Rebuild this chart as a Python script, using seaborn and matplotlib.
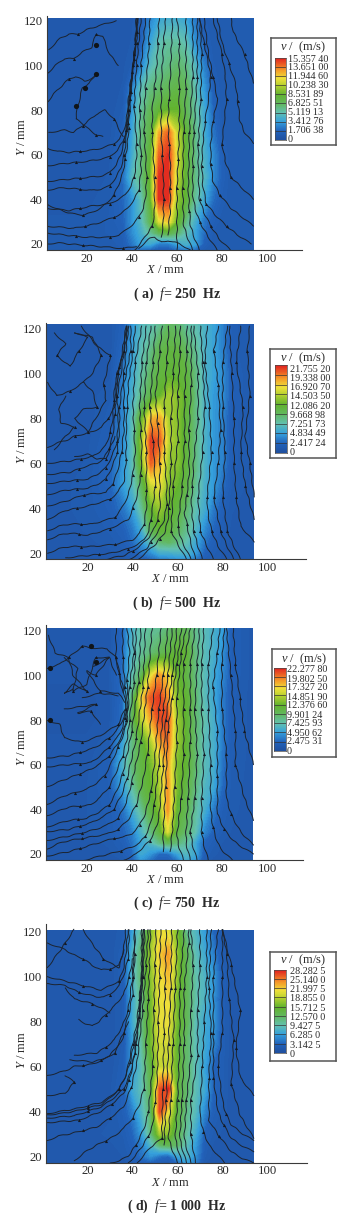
import numpy as np
import pandas as pd
import matplotlib
matplotlib.use('Agg')
import matplotlib.pyplot as plt
from matplotlib.colors import LinearSegmentedColormap
from matplotlib.patches import Rectangle
from matplotlib.ticker import MultipleLocator
import seaborn as sns

W, H = 353, 1227

# grid of the velocity field
grid_x = [2, 20, 30, 36, 40, 44, 48, 52, 56, 60, 64, 68, 72, 76, 80, 84, 94.5]
grid_y = [122, 110, 100, 90, 80, 70, 60, 50, 40, 30, 25, 20, 17]

# velocity, m/s, rows follow grid_y
field_a = [
    [.8, .8, .8, .8, .9, 1.3, 2.5, 3.5, 3.8, 3.8, 3.5, 2.2, 1.2, 1, 1, 1, 1],
    [.8, .8, .8, .8, 1, 1.5, 3.5, 5, 5.5, 5.5, 5, 3, 1.6, 1, 1, 1, 1],
    [.8, .8, .8, .9, 1.2, 2.5, 4.5, 5.5, 6, 6.5, 6, 4.5, 2.5, 1.2, 1, 1, 1],
    [.8, .8, .8, 1, 2.5, 4.8, 6, 6.5, 7, 7.5, 7, 5, 3.2, 1.5, 1, 1, 1],
    [.8, .8, .8, 1.2, 3.2, 5.5, 7, 8, 8.5, 8.5, 7, 5.5, 3.8, 1.8, 1, 1, 1],
    [.8, .8, .9, 1.5, 3.5, 6, 7.5, 12.5, 14, 10.5, 8, 6, 4, 2.2, 1.2, 1, 1],
    [.8, .8, .9, 1.8, 3.8, 6, 8, 14, 15, 11, 8, 6, 4.2, 2.8, 1.4, 1, 1],
    [.8, .8, 1, 2, 4.5, 6, 8.5, 15, 15, 10.5, 8, 6, 4.5, 2.8, 1.5, 1, 1],
    [.9, .9, 1.1, 1.8, 3, 4.8, 8, 15, 15, 9.5, 8, 5.5, 3.8, 2, 1.3, 1, 1],
    [1, 1, 1.2, 1.6, 3, 4.5, 7, 11, 12, 8.5, 6, 4, 2.2, 1.4, 1, 1, 1],
    [1, 1, 1.2, 1.4, 2.8, 4, 5.5, 7, 7.5, 6.5, 5, 3.5, 2, 1.1, 1, 1, 1],
    [1, 1, 1, 1.3, 2.2, 3.5, 3.8, 2.4, 2.4, 3.5, 4.2, 3.5, 1.5, 1, 1, 1, 1],
    [1, 1, 1, 1.1, 1.6, 1.8, 1.4, 1.2, 1.2, 1.7, 2.2, 1.8, 1.1, 1, 1, 1, 1],
]
field_b = [
    [1.2, 1.2, 1.2, 2.2, 4.5, 6.5, 7, 8, 9.5, 9, 7.5, 7, 6, 5, 3.5, 1.8, 1.2],
    [1.2, 1.2, 1.2, 2.8, 5, 7, 8.5, 10.5, 11, 11, 9.5, 8, 6, 5, 3.5, 1.8, 1.2],
    [1.2, 1.2, 1.3, 3.5, 5.5, 7.5, 9.5, 11, 11.5, 11.5, 11, 8.5, 6, 5, 4, 2, 1.2],
    [1.2, 1.2, 1.6, 4, 6, 8.5, 10.5, 12, 14, 13, 11.5, 8.5, 6, 4.5, 4, 2, 1.2],
    [1.2, 1.2, 1.8, 4, 7, 12, 17.5, 18, 14, 13, 11, 8.5, 6, 4.5, 3.5, 1.8, 1.2],
    [1.2, 1.3, 2, 4.2, 7, 14, 21, 20, 14.5, 13, 11, 8.5, 6, 4.5, 3.5, 1.8, 1.2],
    [1.2, 1.4, 2.4, 4.5, 7, 13, 20, 17.5, 13.5, 13, 11, 8.5, 6, 4.5, 3.5, 1.8, 1.2],
    [1.2, 1.5, 2.4, 4.8, 6.5, 10, 15, 16, 13, 12, 10.5, 8, 5.8, 4.5, 2.8, 1.6, 1.2],
    [1.2, 1.5, 2, 3.2, 5, 8, 12, 13.5, 12, 11, 9, 7, 5.5, 3.2, 2, 1.4, 1.2],
    [1.2, 1.4, 1.7, 2.2, 3.2, 5.5, 10, 11.5, 11, 9.5, 8, 6, 3.8, 2.4, 1.6, 1.3, 1.2],
    [1.2, 1.3, 1.5, 1.9, 2.8, 4.5, 7, 9, 9.5, 8.5, 7, 5.2, 3, 2, 1.5, 1.3, 1.2],
    [1.2, 1.2, 1.3, 1.5, 2, 3, 4, 5.5, 5.5, 6, 6, 4.5, 2.2, 1.7, 1.3, 1.2, 1.2],
    [1.2, 1.2, 1.2, 1.3, 1.5, 2, 2.4, 3.2, 3.5, 3.8, 4, 3.2, 1.8, 1.5, 1.3, 1.2, 1.2],
]
field_c = [
    [1.2, 1.2, 1.2, 2.5, 6, 7.5, 8, 8, 9, 10, 10, 8.5, 7, 6, 5, 2, 1.2],
    [1.2, 1.2, 1.2, 2.8, 6.5, 8, 9, 10, 11, 12, 12, 9, 7, 6, 4.5, 2, 1.2],
    [1.2, 1.2, 1.4, 3, 7, 10, 16, 19, 17, 12.5, 11, 9, 7, 5.5, 4, 2, 1.2],
    [1, 1, 1.3, 2.8, 9, 16.5, 20.5, 21.5, 19, 13, 12, 9.5, 7, 5.5, 3.5, 1.8, 1.2],
    [1, 1, 1.3, 3, 10, 14.5, 18, 21, 21, 14, 12, 9.5, 7.5, 6, 3.5, 1.8, 1.2],
    [1.2, 1.2, 1.6, 5, 8.5, 11, 14, 18, 20, 14, 12, 9.5, 7, 6, 3.5, 1.8, 1.2],
    [1.2, 1.3, 2, 6, 9, 11, 12.5, 15, 18.5, 13, 12, 9.5, 7, 6, 3.2, 1.7, 1.2],
    [1.2, 1.4, 2, 5, 7.5, 10.5, 12, 14, 19, 13, 11, 9, 6.5, 5.5, 2.8, 1.6, 1.2],
    [1.2, 1.4, 1.8, 3, 5.5, 8, 11, 13, 19, 12, 10.5, 8, 6, 3.5, 2, 1.5, 1.2],
    [1.2, 1.4, 1.7, 2.4, 3.5, 6, 8.5, 11, 16, 11, 9.5, 7.5, 4, 2.4, 1.7, 1.4, 1.2],
    [1.2, 1.2, 1.5, 2, 3, 5, 6.5, 8.5, 10, 9, 8, 5.5, 2.5, 1.8, 1.4, 1.2, 1.2],
    [1.2, 1.2, 1.3, 1.7, 2.5, 5.5, 4.5, 2.8, 2.8, 5, 6.5, 5.5, 2, 1.5, 1.3, 1.2, 1.2],
    [1.2, 1.2, 1.2, 1.4, 2, 4.5, 3, 2, 2, 3, 5.5, 4.5, 1.7, 1.3, 1.2, 1.2, 1.2],
]
field_d = [
    [1.5, 1.5, 1.5, 2, 6, 10, 16, 21, 20, 16, 10, 8, 6, 3, 1.5, 1.5, 1.5],
    [1.5, 1.5, 1.5, 2.5, 8, 12, 18, 22, 24, 17, 13, 9, 7, 4.5, 2, 1.5, 1.5],
    [1.5, 1.5, 1.5, 2.5, 8, 12, 17, 21, 22.5, 17, 13, 9.5, 8, 6, 2.5, 1.5, 1.5],
    [1.5, 1.5, 1.5, 2.2, 7, 11, 16, 21, 21.5, 16, 13, 9.5, 8, 5.5, 2.4, 1.5, 1.5],
    [1.5, 1.5, 1.5, 2.2, 7, 11, 16, 21, 21, 16, 13, 9, 7, 6, 2.4, 1.5, 1.5],
    [1.5, 1.5, 1.5, 2.2, 6, 10, 16, 20, 20, 15, 12, 9, 7, 5, 2.4, 1.5, 1.5],
    [1.5, 1.5, 1.5, 2.5, 6, 9, 14, 19.5, 19.5, 15, 12, 9, 6.5, 3.2, 2.2, 1.5, 1.5],
    [1.5, 1.5, 1.7, 2.8, 7, 9, 13, 26.5, 28, 14, 12, 9, 7, 3.2, 2.2, 1.5, 1.5],
    [1.5, 1.5, 1.7, 2.6, 4.5, 8, 12, 27, 21, 14, 11, 8.5, 5, 2.6, 2, 1.5, 1.5],
    [1.5, 1.6, 1.9, 2.2, 3.2, 6, 11, 18, 17, 13, 10, 7, 3, 2, 1.7, 1.5, 1.5],
    [1.5, 1.5, 1.7, 2, 2.8, 4.5, 8, 12, 13, 12, 9, 6, 2.5, 1.7, 1.5, 1.5, 1.5],
    [1.5, 1.5, 1.6, 1.8, 2.4, 3.8, 5.5, 3.8, 3.2, 6.5, 8, 5.5, 2.2, 1.6, 1.5, 1.5, 1.5],
    [1.5, 1.5, 1.5, 1.6, 2, 2.6, 2.8, 2, 1.8, 3.2, 6, 4.5, 1.8, 1.5, 1.5, 1.5, 1.5],
]

# streamlines, (X, Y) in mm
lines_a = [
    [(2, 38), (6, 36), (10, 34.5), (14, 33.5), (18, 33), (22, 34), (26, 36), (29, 38.5), (32, 42), (34, 46.5), (36, 52), (37, 58), (38, 65), (38.5, 72), (39, 80), (39.5, 88), (40, 95), (41, 103), (41.5, 110), (42, 121)],
    [(2, 44), (7, 45), (12, 45), (17, 44.5), (22, 44), (26, 44.5), (30, 46), (33, 50), (35, 54), (36.5, 60), (37.5, 68), (38, 74), (38.5, 80), (39, 88), (40, 95), (41.5, 110), (42, 121)],
    [(2, 48), (7, 48.5), (12, 49), (17, 49.5), (22, 50), (27, 50.5), (30, 52), (33, 55.5), (35, 60), (36.5, 66), (37.5, 72), (38.5, 80), (39, 85), (40.5, 100), (42, 115), (42.5, 121)],
    [(2, 55), (6, 55.5), (10, 56), (15, 56.5), (20, 57), (26, 58), (30, 59), (33.5, 62), (36, 66), (37.5, 71), (38, 76), (39, 85), (39.5, 90), (41, 105), (42.5, 121)],
    [(2, 63), (7, 61.5), (12, 61), (17, 61.5), (22, 62), (27, 63), (32, 65), (34.5, 67), (36, 70), (37.5, 75), (38, 80), (39, 90), (40, 97), (42, 110), (42.5, 121)],
    [(2, 25), (6, 24.5), (10, 24), (15, 23.5), (20, 23), (25, 23), (30, 23), (34, 24), (37, 26), (40, 28.5), (43, 32), (45, 36), (46, 40), (46.5, 50), (46, 60), (45.5, 70), (45.5, 80), (46, 90), (47, 100), (47.5, 110), (48, 121)],
    [(2, 28), (8, 27.5), (14, 27), (19, 28), (24, 29), (28, 30.5), (32, 32), (35, 33.5), (38, 36), (41, 40), (43, 44), (44, 52), (44, 60), (43.5, 70), (43.5, 80), (44, 100), (45, 110), (46, 121)],
    [(2, 36), (7, 35.5), (12, 35), (17, 36), (22, 37), (26, 37.5), (30, 38), (34, 40), (37, 42), (39.5, 46), (41, 50), (42, 58), (42, 65), (41.5, 74), (41, 82), (41.5, 92), (42, 100), (44, 121)],
    [(2, 20), (7, 20.5), (12, 20), (18, 19.5), (24, 19), (30, 18.5), (36, 18), (42, 19)],
    [(41, 17), (43, 19.5), (45, 22), (47, 25), (49, 28), (50, 34), (50, 40), (50, 50), (49.5, 60), (49, 70), (49, 80), (50, 90), (51, 100), (51.5, 110), (52, 121)],
    [(43, 18), (46, 21), (48, 22.5), (50, 23), (53, 21)],
    [(53, 21), (56, 21.5), (58, 21), (60, 20.5), (63, 19), (66, 17)],
    [(53, 23), (54, 30), (54, 40), (54, 50), (53.5, 60), (53, 70), (53, 90), (54, 110), (55, 121)],
    [(56, 24), (57, 35), (57, 45), (57, 55), (56.5, 65), (56, 75), (56.5, 85), (57, 95), (58, 121)],
    [(60, 17), (60, 28), (60, 45), (60.5, 58), (61, 70), (61, 90), (61, 110), (60, 121)],
    [(67, 17), (65, 22), (63, 28), (62.5, 45), (63, 70), (64, 90), (64, 121)],
    [(70, 17), (68, 22), (66, 28), (65.5, 35), (65, 45), (65.5, 70), (67, 95), (67, 121)],
    [(78, 17), (74, 23), (70, 30), (68, 36), (67, 42), (67, 55), (67.5, 70), (69, 95), (69, 121)],
    [(84, 17), (79, 22), (75, 28), (72, 34), (70, 40), (69.5, 52), (69.5, 65), (70.5, 85), (71, 105), (70, 121)],
    [(93, 20), (87, 24), (82, 28), (77, 33), (73, 38), (71.5, 46), (71, 55), (71.5, 65), (72.5, 75), (74, 85), (75, 95), (73.5, 103), (72, 110), (70, 121)],
    [(94, 28), (89, 32), (84, 36), (79, 42), (76, 48), (75, 56), (75, 65), (76, 75), (78, 85), (76, 95), (74, 105), (72, 121)],
    [(94, 40), (89, 45), (84, 50), (81.5, 57), (80, 65), (81, 75), (82, 85), (81.5, 95), (80, 105), (76, 121)],
    [(94, 65), (90, 70), (88, 75), (87, 84), (86, 92), (83, 101), (80, 110), (78, 121)],
    [(94, 92), (90, 105), (85, 115), (84, 121)],
    [(2, 96), (6, 100), (10, 103), (14, 103), (18, 106), (22, 108), (24, 114), (27, 113), (30, 105), (34, 100)],
    [(3, 107), (8, 112), (12, 114), (16, 114), (20, 116), (26, 118), (33, 120)],
    [(2, 83), (5, 87), (8, 90), (12, 94), (15, 95), (19, 93), (22, 94), (25, 96)],
    [(16, 82), (18, 90), (21, 92), (24, 96)],
    [(16, 82), (15, 76), (18, 74), (20, 72), (24, 69), (27, 68)],
    [(3, 70), (7, 70.5), (10, 71), (14, 70), (18, 73), (24, 78), (28, 80), (32, 76), (36, 68)],
]
lines_b = [
    [(2, 67), (6, 69), (10, 70), (14, 72), (18, 73), (22, 74), (26, 76), (29, 80), (32, 85), (33, 92), (33, 100), (35, 106), (36, 110), (37, 121)],
    [(2, 60), (7, 60.5), (12, 61), (17, 62), (22, 63), (25, 65), (28, 68), (30, 74), (31, 80), (31.5, 88), (32, 95), (34, 103), (36, 110), (37, 121)],
    [(2, 55), (7, 55.5), (12, 56), (16, 57.5), (20, 59), (24, 60), (27, 62), (29.5, 67), (31, 72), (32, 82), (32, 90), (33.5, 100), (35, 108), (37, 121)],
    [(2, 51), (6, 51.5), (10, 52), (15, 52.5), (20, 53), (24, 55), (28, 58), (31, 64), (33, 70), (33.5, 80), (33, 90), (35, 102), (36, 110), (38, 121)],
    [(2, 46), (6, 47), (10, 48), (15, 48.5), (20, 49), (24, 50.5), (28, 53), (31, 59), (33, 65), (34, 75), (34, 85), (36, 100), (38, 121)],
    [(2, 41), (6, 42), (10, 43), (14, 44.5), (18, 46), (23, 46.5), (28, 47), (31, 51), (33, 56), (35, 65), (36, 75), (36, 85), (36, 95), (39, 110), (39, 121)],
    [(2, 35), (6, 37), (10, 39), (15, 40), (20, 41), (25, 42.5), (30, 44), (33.5, 47.5), (36, 52), (37, 62), (37, 75), (37.5, 85), (38, 95), (40, 110), (41, 121)],
    [(2, 30), (7, 32), (12, 33), (17, 33), (22, 33), (27, 34.5), (32, 36), (35, 40), (38, 46), (40, 55), (41, 65), (40.5, 75), (40, 85), (41, 105), (44, 121)],
    [(2, 26), (7, 28), (12, 29), (16, 28.5), (20, 28), (25, 29.5), (30, 31), (34, 33), (38, 35), (40, 40), (42, 46), (43.5, 55), (44, 65), (43.5, 75), (43, 85), (44, 105), (46, 121)],
    [(2, 20), (7, 22), (12, 23), (17, 23), (22, 23), (27, 23.5), (32, 24), (36, 25), (40, 26), (43, 29), (45, 33), (46, 40), (46, 48), (46, 65), (45, 85), (46, 105), (48, 121)],
    [(10, 18), (15, 18.5), (20, 19), (25, 19.5), (30, 20), (34, 21), (38, 22), (42, 24), (45, 26), (47, 30), (48, 35), (49, 42), (50, 50), (49.5, 60), (49, 70), (47.5, 85), (49, 105), (50, 121)],
    [(26, 17), (31, 18), (36, 19), (40, 21), (44, 24), (47, 27), (49, 30), (51, 35), (52, 40), (52, 60), (51, 78), (50, 90), (52, 110), (53, 121)],
    [(38, 17), (42, 19.5), (46, 22), (48, 25), (50, 28), (52, 31), (54, 35), (55, 42), (55, 50), (54, 65), (54, 85), (55, 105), (56, 121)],
    [(42, 17), (46, 20.5), (50, 24), (52, 26.5), (54, 29), (55.5, 34), (56, 40), (57, 60), (57, 80), (58, 100), (59, 121)],
    [(64, 17), (62, 20.5), (60, 24), (58.5, 27), (57, 30), (57.5, 40), (58, 50), (60, 70), (60, 90), (61, 110), (61, 121)],
    [(66, 17), (64, 21), (62, 25), (61, 28), (60, 32), (61, 41), (62, 50), (63, 70), (63, 90), (64, 110), (64, 121)],
    [(68, 17), (66.5, 22), (65, 28), (64, 33), (63, 38), (64, 46), (65, 55), (65, 75), (66, 95), (66, 121)],
    [(71, 17), (69, 23), (67, 30), (66, 42), (66.5, 50), (67, 60), (69, 80), (69, 100), (67, 121)],
    [(76, 17), (73, 23), (70, 30), (69, 45), (70, 55), (71, 65), (72, 85), (71, 105), (70, 121)],
    [(82, 17), (78, 23), (75, 30), (73.5, 37), (73, 45), (74, 55), (75, 65), (74, 85), (72, 105), (73, 121)],
    [(85, 17), (82, 23), (79, 30), (76, 45), (78, 60), (79, 75), (78, 95), (76, 110), (78, 121)],
    [(88, 17), (85, 23), (82, 30), (80, 45), (81, 65), (80, 85), (80, 105), (82, 121)],
    [(94, 25), (88, 32), (86, 45), (85, 60), (85, 80), (84, 100), (83, 121)],
    [(94, 35), (90, 50), (88, 65), (89, 85), (86, 105), (88, 121)],
    [(94, 45), (92, 60), (90, 72), (92, 90), (91, 110), (92, 121)],
    [(5, 118), (10, 113), (6, 108), (12, 103), (16, 110), (20, 116), (14, 118)],
    [(2, 96), (6, 90), (12, 92), (18, 96), (22, 92), (24, 85), (18, 84), (14, 80), (20, 74), (28, 88)],
    [(14, 118), (22, 116), (26, 108), (22, 100), (18, 96)],
    [(5, 66), (10, 72), (14, 76), (8, 78), (7, 84), (10, 90)],
    [(14, 63), (20, 64), (24, 62), (28, 62), (32, 72)],
    [(17, 121), (24, 112), (30, 108), (27, 95), (28, 88)],
]
lines_c = [
    [(2, 63), (7, 63.5), (12, 64), (17, 65.5), (22, 67), (26, 69), (30, 72), (33, 75), (35, 78), (36.5, 81.5), (37.5, 85), (37, 90), (36, 95), (34.5, 101), (33, 108), (33, 121)],
    [(2, 59), (7, 59.5), (12, 60), (17, 60.5), (22, 61), (26, 64), (30, 68), (33.5, 72), (36, 77), (37, 81), (37.5, 86), (37, 95), (36, 108), (36, 121)],
    [(2, 50), (7, 52), (12, 54), (17, 56), (22, 58), (26, 60.5), (30, 64), (33.5, 69), (36, 74), (37.5, 80), (38, 85), (38, 98), (39, 110), (38, 121)],
    [(2, 42), (6, 44), (10, 46), (15, 47.5), (20, 49), (24, 51.5), (28, 55), (31, 61), (34, 68), (36.5, 74), (38, 80), (39, 95), (41, 110), (40, 121)],
    [(2, 37), (7, 39), (12, 41), (17, 41.5), (22, 42), (26, 45.5), (30, 50), (33, 56.5), (36, 64), (38, 72), (39, 80), (41, 97), (42, 121)],
    [(2, 32), (7, 33.5), (12, 35), (16, 35.5), (20, 36), (25, 38.5), (30, 42), (33.5, 48.5), (36, 56), (38, 65), (40, 75), (43, 97), (44, 121)],
    [(2, 30), (7, 30.5), (12, 31), (17, 32.5), (22, 34), (27, 36.5), (32, 40), (35.5, 46.5), (38, 54), (40, 63), (42, 72), (45, 95), (46, 121)],
    [(2, 26), (7, 27), (12, 28), (18, 29.5), (24, 31), (29, 33), (34, 36), (37.5, 43), (40, 52), (42, 61), (44, 70), (47, 95), (49, 121)],
    [(2, 22), (7, 24.5), (12, 26), (18, 27), (24, 28), (29, 29), (34, 31), (38.5, 35.5), (42, 42), (45, 53), (47, 65), (49, 85), (51, 100), (53, 121)],
    [(2, 19), (7, 20), (12, 21), (17, 22.5), (22, 24), (27, 25.5), (32, 27), (36, 27.5), (40, 29), (43.5, 33), (46, 38), (48.5, 48), (50, 60), (52, 85), (54, 100), (56, 121)],
    [(18, 17), (24, 18.5), (30, 20), (35, 21.5), (40, 23), (43.5, 25), (46, 28), (48.5, 34), (50, 42), (52, 60), (54, 85), (56, 100), (58, 121)],
    [(36, 17), (42, 20), (45, 23), (48, 26), (50.5, 31), (52, 36), (54, 60), (55, 80), (58, 100), (60, 121)],
    [(54, 21), (54, 30), (55, 50), (56, 75), (58, 90), (60, 105), (62, 121)],
    [(57, 21), (58, 30), (59, 50), (60, 70), (60, 90), (62, 110), (64, 121)],
    [(63, 17), (61, 23), (60, 28), (62, 45), (63, 65), (63, 85), (63, 105), (66, 121)],
    [(66, 17), (64.5, 23), (64, 28), (65, 45), (66, 70), (66, 85), (66, 105), (68, 121)],
    [(69, 17), (67, 24), (66, 30), (68, 45), (69, 65), (68, 85), (69, 105), (70, 121)],
    [(74, 17), (72, 24), (71, 30), (71, 45), (72, 65), (71, 85), (71, 105), (72, 121)],
    [(85, 17), (81, 20.5), (78, 25), (76, 32), (75, 40), (75, 60), (74, 85), (74, 105), (76, 121)],
    [(94, 20), (89, 23), (85, 26), (81, 31), (78, 38), (78, 55), (78, 75), (76, 95), (78, 110), (79, 121)],
    [(94, 24), (90, 28), (87, 32), (84, 38), (82, 45), (82, 65), (80, 85), (80, 105), (81, 121)],
    [(94, 35), (90, 45), (86, 60), (86, 75), (84, 100), (82, 121)],
    [(94, 60), (90, 75), (88, 90), (86, 105), (85, 121)],
    [(2, 103), (8, 105), (12, 108), (18, 113), (24, 112), (29, 112), (33, 108), (36, 92)],
    [(3, 118), (6, 110), (12, 108), (14, 100), (20, 93), (14, 96), (10, 92), (14, 94)],
    [(10, 108), (16, 103), (14, 93), (20, 96), (24, 108), (30, 108), (33, 100)],
    [(23, 104), (30, 108), (24, 100), (20, 102), (26, 93), (34, 92), (37, 88)],
    [(2, 80), (8, 78), (10, 72), (18, 70), (26, 73), (34, 78), (37, 85)],
    [(10, 85), (18, 86), (24, 87), (16, 83), (22, 84), (26, 78)],
    [(18, 90), (26, 92), (34, 91)],
]
lines_d = [
    [(2, 39), (8, 40), (14, 41), (20, 42.5), (26, 44), (30, 46.5), (34, 50), (36.5, 55), (38, 60), (40, 70), (42, 80), (43, 90), (44, 100), (44, 121)],
    [(2, 38.5), (8, 39), (14, 40), (20, 41.5), (26, 43), (30, 46), (34, 50), (37, 56), (39, 62), (41, 72), (43, 82), (44.5, 100), (44.5, 121)],
    [(2, 37), (8, 37.5), (14, 38), (20, 40), (26, 42), (31, 45.5), (36, 50), (39, 57), (41, 66), (42, 76), (43, 85), (44, 100), (45, 121)],
    [(2, 35), (9, 35.5), (16, 36), (21, 38), (26, 40), (31, 43.5), (36, 48), (38.5, 54), (40, 60), (41.5, 70), (43, 80), (44.5, 100), (45.5, 121)],
    [(2, 27), (7, 29), (12, 30), (18, 31.5), (24, 33), (30, 37), (36, 42), (39.5, 51), (42, 62), (44.5, 85), (46, 105), (47, 121)],
    [(14, 18), (19, 22), (24, 25), (28, 27), (32, 29), (36, 32.5), (40, 37), (43, 43), (45, 50), (46, 70), (47, 90), (48, 121)],
    [(30, 17), (34, 18), (38, 20), (41.5, 25), (44, 30), (46, 35), (47, 40), (48, 50), (49, 60), (49.5, 85), (50, 105), (50.5, 121)],
    [(38, 17), (41, 20), (44, 24), (47, 29), (49, 34), (50, 44), (51, 55), (51.5, 80), (52, 100), (52.5, 121)],
    [(42, 17), (45, 20.5), (48, 24), (50.5, 26), (53, 28), (53.5, 50), (54, 75), (54.5, 95), (55, 121)],
    [(54, 25), (55, 45), (56, 70), (57, 95), (57.5, 121)],
    [(60, 17), (58, 22), (56, 28), (57, 45), (58, 70), (59, 95), (60, 121)],
    [(62, 17), (60.5, 22), (59, 28), (60, 45), (61, 70), (61, 95), (63, 121)],
    [(64, 17), (62.5, 22), (61, 28), (62, 45), (63, 70), (63, 95), (65, 115), (65, 121)],
    [(66, 17), (64.5, 22), (63, 28), (64, 45), (66, 65), (66, 85), (67, 105), (66, 121)],
    [(68, 17), (67, 23), (66, 30), (66, 45), (69, 65), (69, 85), (70, 105), (70, 121)],
    [(81, 17), (77.5, 21), (74, 25), (71.5, 31), (70, 38), (71, 60), (72, 80), (73, 100), (73, 121)],
    [(94, 17), (89, 19), (84, 22), (78.5, 29), (74, 36), (74, 55), (75, 75), (74, 95), (75, 121)],
    [(94, 22), (89, 24.5), (84, 28), (80.5, 34), (78, 40), (76, 55), (76, 75), (76, 100), (78, 121)],
    [(94, 27), (89, 30), (84, 34), (81.5, 39), (80, 45), (78, 60), (80, 75), (80, 100), (80, 121)],
    [(94, 28), (88, 38), (84, 52), (85, 72), (83, 90), (82, 110), (80, 121)],
    [(94, 47), (88, 55), (86, 68), (88, 85), (84, 105), (80, 121)],
    [(14, 65), (19, 65.5), (24, 66), (28, 68.5), (32, 72), (35.5, 78), (38, 85), (40, 100), (41, 121)],
    [(12, 63), (17, 62.5), (22, 62), (26, 63), (30, 65), (33.5, 69.5), (36, 75), (38.5, 84), (40, 92), (41, 110), (41, 121)],
    [(2, 56), (6, 57), (10, 58), (14, 60), (18, 60.5), (22, 61), (27, 63), (32, 66), (35.5, 72.5), (38, 80)],
    [(16, 81), (19, 79), (22, 78), (25, 80), (28, 83), (32, 87), (36, 92), (38.5, 100), (40, 108)],
    [(2, 97), (6, 96.5), (10, 96), (13, 94.5), (16, 93), (20, 92), (24, 91), (27, 91), (30, 92), (32, 94), (34, 96), (36.5, 102), (38, 108), (38.5, 121)],
    [(2, 100), (6, 99), (10, 98), (14, 97), (18, 96), (22, 95), (26, 94), (30, 96), (34, 98), (36, 104), (37, 110), (38, 121)],
    [(2, 104), (5, 108), (8, 112), (10, 115), (12, 118), (14, 121)],
    [(2, 115), (6, 113.5), (10, 112), (13, 110), (18, 108), (22, 105), (26, 103), (30, 103.5), (34, 105), (36, 112), (37, 121)],
    [(10, 95), (14, 90), (18, 89), (22, 88), (26, 86), (30, 84)],
    [(18, 121), (21, 116), (24, 112), (27, 108), (30, 106), (34, 104), (36, 112)],
    [(2, 47), (6, 47.5), (10, 48), (14, 53), (10, 56)],
]

# blobs of dense line in the left part
blobs_a = [(24, 109), (24, 96), (19, 90), (15, 82)]
blobs_b = []
blobs_c = [(3.7, 103.5), (3.7, 80), (24, 106), (22, 113)]
blobs_d = []

# legend
ticks_a = ['15.357 40', '13.651 00', '11.944 60', '10.238 30', '8.531 89', '6.825 51', '5.119 13', '3.412 76', '1.706 38', '0']
ticks_b = ['21.755 20', '19.338 00', '16.920 70', '14.503 50', '12.086 20', '9.668 98', '7.251 73', '4.834 49', '2.417 24', '0']
ticks_c = ['22.277 80', '19.802 50', '17.327 20', '14.851 90', '12.376 60', '9.901 24', '7.425 93', '4.950 62', '2.475 31', '0']
ticks_d = ['28.282 5', '25.140 0', '21.997 5', '18.855 0', '15.712 5', '12.570 0', '9.427 5', '6.285 0', '3.142 5', '0']
vmax_all = [15.3574, 21.7552, 22.2778, 28.2825]
captions = ['( a)  $f$= 250  Hz', '( b)  $f$= 500  Hz', '( c)  $f$= 750  Hz', '( d)  $f$= 1 000  Hz']

# positions in pixels of the picture
# field left, field right, axis end, field top, field bottom, spine top, x20, x100, y120, y20
axes_px = [
    (47, 253.5, 302, 18, 250, 15.7, 87, 267, 20.7, 244),
    (46, 254, 306, 324, 559.3, 323, 88, 267.7, 328.3, 553.3),
    (46.3, 253.3, 302.7, 627.7, 860, 625, 86.7, 267, 630.7, 854),
    (46, 253.7, 306.7, 929.7, 1162.7, 924, 87.7, 267.3, 931.7, 1156.3),
]
# box l r t b, bar l r t b, first label y, last label y, label x, title y
legend_px = [
    (271, 335.5, 37.5, 145, 274.5, 286, 57.5, 140, 59, 139.5, 288, 47),
    (270, 336, 348.7, 458, 275, 287, 365, 453, 369.3, 452.3, 290, 358.7),
    (271.5, 336, 649, 757, 273.5, 285.5, 667.7, 751, 670, 751, 287, 659),
    (270, 336, 952, 1061, 274, 286, 969.7, 1053, 971, 1054.3, 290, 960),
]
# x label centre x, x label y, caption y
label_px = [(165, 270, 294), (170, 579, 603), (165, 880, 903.7), (170, 1183, 1206)]

sns.set_theme(style='white')
plt.rcParams['font.family'] = ['Liberation Serif', 'DejaVu Serif']
plt.rcParams['mathtext.fontset'] = 'custom'
plt.rcParams['mathtext.it'] = 'Liberation Serif:italic'
plt.rcParams['mathtext.rm'] = 'Liberation Serif'
plt.rcParams['text.color'] = '#2b2b2b'

# tecplot like colours
cmap = LinearSegmentedColormap.from_list('tec', [
    (0.00, '#20509f'), (0.11, '#2263bb'), (0.22, '#35a0dc'), (0.33, '#62c0b0'),
    (0.44, '#62b860'), (0.55, '#62b32f'), (0.66, '#b2d030'), (0.75, '#eee03a'),
    (0.85, '#f59a28'), (1.00, '#e0201f')])


def rect(l, r, t, b):
    return [l / W, 1 - b / H, (r - l) / W, (b - t) / H]


fig = plt.figure(figsize=(W / 100, H / 100), dpi=100)

fields = [field_a, field_b, field_c, field_d]
streams = [lines_a, lines_b, lines_c, lines_d]
blobs = [blobs_a, blobs_b, blobs_c, blobs_d]
ticks = [ticks_a, ticks_b, ticks_c, ticks_d]

for i in range(4):
    left, fright, end, ftop, fbot, stop, x20, x100, y120, y20 = axes_px[i]
    ax = fig.add_axes(rect(left, end, stop, fbot))
    xs = (x100 - x20) / 80
    ys = (y20 - y120) / 100
    ax.set_xlim(20 + (left - x20) / xs, 20 + (end - x20) / xs)
    ax.set_ylim(20 - (fbot - y20) / ys, 120 + (y120 - stop) / ys)
    xedge = 20 + (fright - x20) / xs
    ytop = 120 + (y120 - ftop) / ys

    z = np.array(fields[i])
    levels = np.linspace(0, vmax_all[i], 80)
    cf = ax.contourf(grid_x, grid_y, z, levels=levels, cmap=cmap, extend='both', zorder=1)
    # field stops short of the axis ends
    clip = Rectangle((ax.get_xlim()[0], ax.get_ylim()[0]), xedge - ax.get_xlim()[0],
                     ytop - ax.get_ylim()[0], transform=ax.transData)
    cf.set_clip_path(clip)

    rows = []
    arrows = []
    for k, line in enumerate(streams[i]):
        run = 0
        for n, (x, y) in enumerate(line):
            rows.append({'line': k, 'x': x, 'y': y})
            if n > 0:
                run += np.hypot(x - line[n - 1][0], y - line[n - 1][1])
            # an arrow head about every 13 mm along the line
            if run > 13 and n < len(line) - 1:
                arrows.append({'x': x, 'y': y})
                run = 0
    df = pd.DataFrame(rows)
    sns.lineplot(data=df, x='x', y='y', units='line', estimator=None, sort=False,
                 color='#1c2430', linewidth=0.7, ax=ax, zorder=3, legend=False)
    sns.scatterplot(data=pd.DataFrame(arrows), x='x', y='y', marker='^', s=5, color='#141a24',
                    linewidth=0, ax=ax, zorder=3, legend=False)
    for ln in ax.lines:
        ln.set_sketch_params(scale=0.5, length=18, randomness=2)
    if blobs[i]:
        bx, by = zip(*blobs[i])
        sns.scatterplot(x=list(bx), y=list(by), s=14, color='#101418', linewidth=0, ax=ax, zorder=3)

    sns.despine(ax=ax)
    for s in ['left', 'bottom']:
        ax.spines[s].set_color('#3a3a3a')
        ax.spines[s].set_linewidth(0.8)
        ax.spines[s].set_zorder(4)
    ax.set_xticks([20, 40, 60, 80, 100])
    ax.set_yticks([20, 40, 60, 80, 100, 120])
    ax.xaxis.set_minor_locator(MultipleLocator(5))
    ax.set_axisbelow(False)
    ax.tick_params(axis='both', which='major', direction='in', length=5, width=0.8, color='#222222',
                   labelsize=9.2, labelcolor='#2b2b2b')
    ax.tick_params(axis='x', which='minor', direction='in', length=2.5, width=0.6, color='#444444')
    ax.tick_params(axis='x', which='major', pad=2)
    ax.tick_params(axis='y', which='major', pad=3)

    lx, ly, capy = label_px[i]
    ax.set_xlabel('$X$ / mm', fontsize=9, color='#2b2b2b')
    ax.set_ylabel('$Y$ / mm', fontsize=9, color='#2b2b2b')
    ax.xaxis.set_label_coords(lx / W, 1 - ly / H, transform=fig.transFigure)
    ax.xaxis.label.set_verticalalignment('center')
    ax.yaxis.set_label_coords(22 / W, 1 - (ftop + (fbot - ftop) * 0.515) / H, transform=fig.transFigure)
    ax.yaxis.label.set_verticalalignment('center')
    fig.text(177 / W, 1 - capy / H, captions[i], ha='center', va='center', fontsize=10,
             fontweight='bold', color='#2a2a2a')

    # legend box
    bl, br, bt, bb, cl, cr, ct, cb, fy, ly2, tx, ty = legend_px[i]
    box = fig.add_axes(rect(bl, br, bt, bb), zorder=5)
    box.set_xticks([])
    box.set_yticks([])
    box.grid(False)
    for s in box.spines.values():
        s.set_color('#555555')
        s.set_linewidth(1.1)
    fig.text((bl + br) / 2 / W, 1 - ty / H, '$v$ /  (m/s)', ha='center', va='center', fontsize=9, zorder=7)

    bar = fig.add_axes(rect(cl, cr, ct, cb), zorder=6)
    cval = np.array([[vmax_all[i] * v / 160] for v in range(161)])
    bar.pcolormesh([0, 1], np.linspace(0, vmax_all[i], 162), cval, cmap=cmap, vmin=0, vmax=vmax_all[i])
    bar.set_xticks([])
    bar.set_yticks([])
    bar.grid(False)
    for s in bar.spines.values():
        s.set_color('#4a4a4a')
        s.set_linewidth(0.5)
    for j, lab in enumerate(ticks[i]):
        py = fy + (ly2 - fy) * j / 9
        fig.text(tx / W, 1 - py / H, lab, ha='left', va='center', fontsize=7.3, zorder=7, color='#2b2b2b')
        if 0 < j < 9:
            bar.axhline(vmax_all[i] * (9 - j) / 9, color='#333333', lw=0.5)

fig.savefig('out.png', dpi=100)
